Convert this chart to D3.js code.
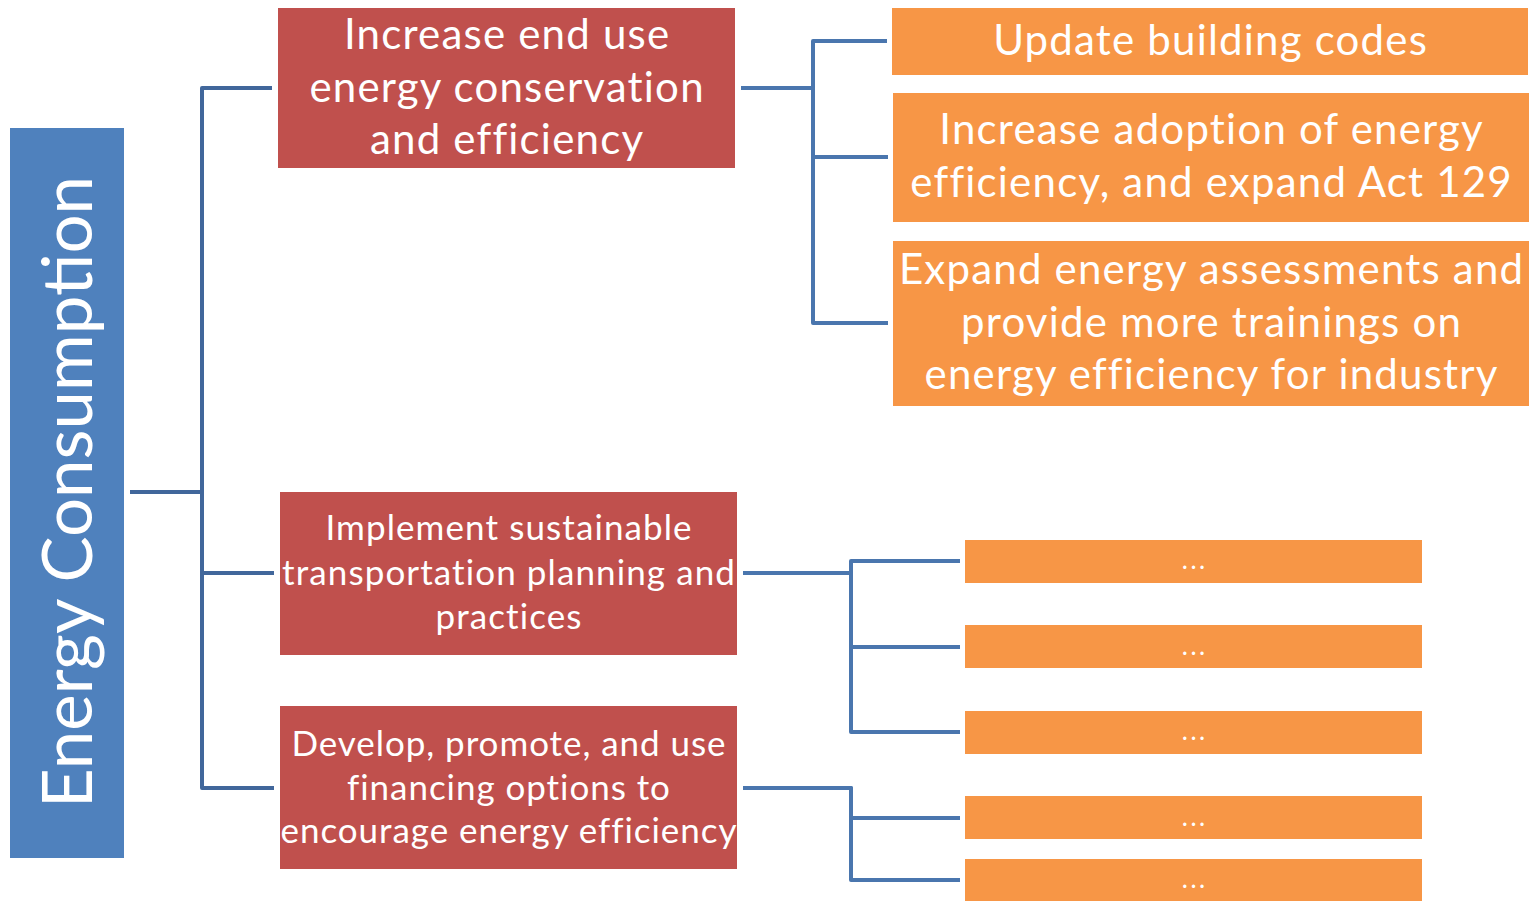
<!DOCTYPE html>
<html>
<head>
<meta charset="utf-8">
<script src="https://cdn.jsdelivr.net/npm/d3@7"></script>
<style>
  body { margin: 0; background: #fff; }
  text { font-family: Lato, "Open Sans", sans-serif; fill: #fff; }
</style>
</head>
<body>
<script>
'use strict';

// ---- data ----
const rootLabel = 'Energy Consumption';
const strategies = [
  ['Increase end use', 'energy conservation', 'and efficiency'],
  ['Implement sustainable', 'transportation planning and', 'practices'],
  ['Develop, promote, and use', 'financing options to', 'encourage energy efficiency']
];
const actions = [
  ['Update building codes'],
  ['Increase adoption of energy', 'efficiency, and expand Act 129'],
  ['Expand energy assessments and', 'provide more trainings on', 'energy efficiency for industry'],
  ['...'], ['...'], ['...'],
  ['...'], ['...']
];
const actionParent = [0, 0, 0, 1, 1, 1, 2, 2];

// ---- layout (pixel boxes) ----
const rootBox = { x0: 10, x1: 124, y0: 128, y1: 858, cy: 492, base: 92, font: 69 };
const stratBoxes = [
  { x0: 278, x1: 735, y0: 8, y1: 168, cy: 88, lh: 52.5, font: 42, ls: 1.2 },
  { x0: 280, x1: 737, y0: 492, y1: 655, cy: 573, lh: 44.5, font: 35, ls: 1.1 },
  { x0: 280, x1: 737, y0: 706, y1: 869, cy: 788, lh: 43.5, font: 35, ls: 0.95 }
];
const actionBoxes = [
  { x0: 892, x1: 1528, y0: 8, y1: 75, cy: 41, lh: 52, font: 42, ls: 1.2 },
  { x0: 893, x1: 1529, y0: 93, y1: 222, cy: 157, lh: 53, font: 42, ls: 1.2 },
  { x0: 893, x1: 1529, y0: 241, y1: 406, cy: 323, lh: 52.5, font: 42, ls: 1.2 },
  { x0: 965, x1: 1422, y0: 540, y1: 583, cy: 561, lh: 30, font: 26, ls: 2.5 },
  { x0: 965, x1: 1422, y0: 625, y1: 668, cy: 647, lh: 30, font: 26, ls: 2.5 },
  { x0: 965, x1: 1422, y0: 711, y1: 754, cy: 732, lh: 30, font: 26, ls: 2.5 },
  { x0: 965, x1: 1422, y0: 796, y1: 839, cy: 818, lh: 30, font: 26, ls: 2.5 },
  { x0: 965, x1: 1422, y0: 859, y1: 905, cy: 880, lh: 30, font: 26, ls: 2.5 }
];
const trunkX = [202, 813, 851, 851];
const textShift = -2.5; // nudge text up to sit like the original

const colors = { root: '#4F81BD', strat: '#C0504D', action: '#F79646',
                 link1: '#41679B', link2: '#4A76AE' };

const svg = d3.select('body').append('svg')
  .attr('width', 1537)
  .attr('height', 901);

function drawBox(b, lines, fill) {
  svg.append('rect')
    .attr('x', b.x0).attr('y', b.y0)
    .attr('width', b.x1 - b.x0).attr('height', b.y1 - b.y0)
    .attr('fill', fill);
  const cx = (b.x0 + b.x1) / 2;
  const top = b.cy - (lines.length - 1) * b.lh / 2 + textShift;
  svg.append('text')
    .attr('text-anchor', 'middle')
    .style('font-size', b.font + 'px')
    .style('letter-spacing', b.ls + 'px')
    .selectAll('tspan')
    .data(lines)
    .enter()
    .append('tspan')
      .attr('x', cx + b.ls / 2)
      .attr('y', (d, i) => top + i * b.lh)
      .attr('dominant-baseline', 'central')
      .text(d => d);
}

function elbow(x0, y0, xm, y1, x1, color) {
  svg.append('path')
    .attr('d', d3.line()([[x0, y0], [xm, y0], [xm, y1], [x1, y1]]))
    .attr('fill', 'none')
    .attr('stroke', color)
    .attr('stroke-width', 4)
    .attr('stroke-linejoin', 'round');
}

// links: root -> strategies
stratBoxes.forEach((b) => {
  elbow(rootBox.x1 + 6, rootBox.cy, trunkX[0], b.cy, b.x0 - 6, colors.link1);
});
// links: strategies -> actions
actions.forEach((a, i) => {
  const p = stratBoxes[actionParent[i]];
  const b = actionBoxes[i];
  elbow(p.x1 + 6, p.cy, trunkX[actionParent[i] + 1], b.cy, b.x0 - 5, colors.link2);
});

// root
svg.append('rect')
  .attr('x', rootBox.x0).attr('y', rootBox.y0)
  .attr('width', rootBox.x1 - rootBox.x0).attr('height', rootBox.y1 - rootBox.y0)
  .attr('fill', colors.root);
svg.append('text')
  .attr('transform', 'translate(' + rootBox.base + ',' + rootBox.cy + ') rotate(-90)')
  .attr('text-anchor', 'middle')
  .style('font-size', rootBox.font + 'px')
  .text(rootLabel);

strategies.forEach((s, i) => drawBox(stratBoxes[i], s, colors.strat));
actions.forEach((a, i) => drawBox(actionBoxes[i], a, colors.action));
</script>
</body>
</html>
